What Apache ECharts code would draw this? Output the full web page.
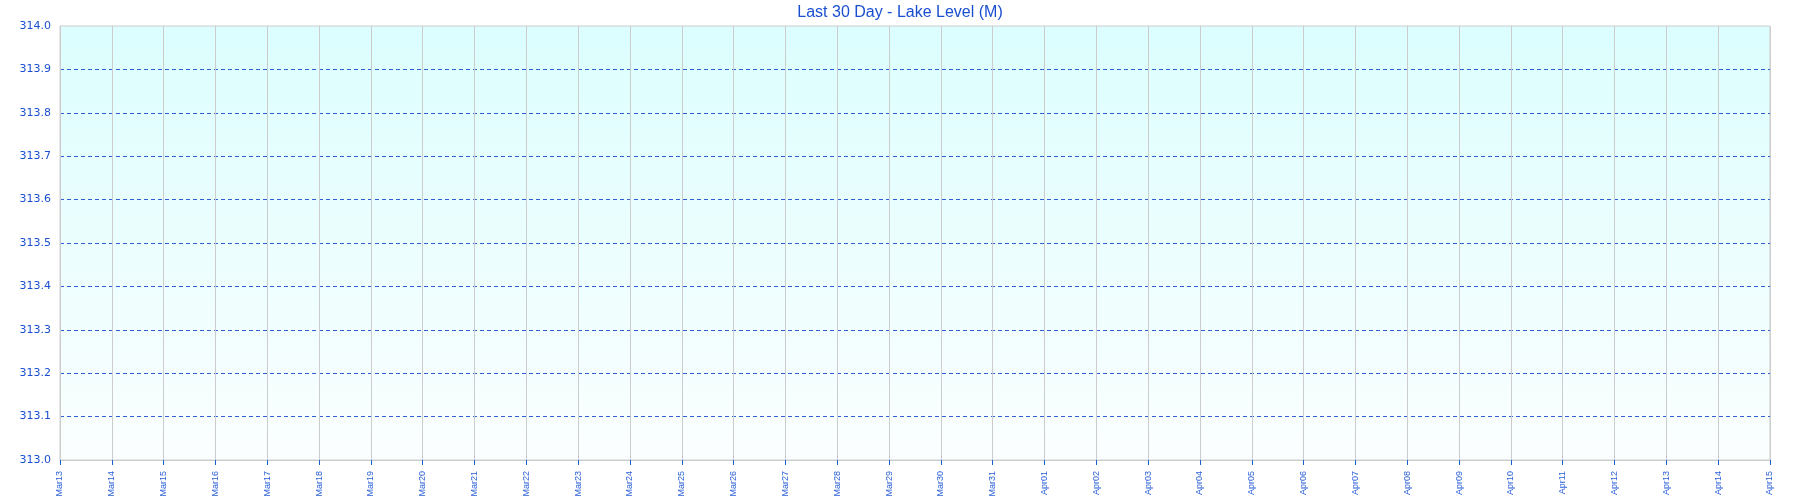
<!DOCTYPE html>
<html><head><meta charset="utf-8">
<script src="https://cdn.jsdelivr.net/npm/echarts@6/dist/echarts.min.js"></script>
<style>html,body{margin:0;padding:0;background:#fff}#c{width:1800px;height:500px}</style>
</head><body><div id="c"></div>
<script>
const title = 'Last 30 Day - Lake Level (M)';
const categories = ['Mar13','Mar14','Mar15','Mar16','Mar17','Mar18','Mar19','Mar20','Mar21','Mar22','Mar23','Mar24','Mar25','Mar26','Mar27','Mar28','Mar29','Mar30','Mar31','Apr01','Apr02','Apr03','Apr04','Apr05','Apr06','Apr07','Apr08','Apr09','Apr10','Apr11','Apr12','Apr13','Apr14','Apr15'];
const levelValues = [];
const yMin = 313.0, yMax = 314.0, yStep = 0.1;

const chart = echarts.init(document.getElementById('c'), null, {renderer: 'canvas'});
chart.setOption({
  animation: false,
  title: {text: title, left: 'center', top: 0,
    textStyle: {fontFamily: 'Liberation Sans', fontSize: 16, fontWeight: 'normal', color: '#1a4fd0'}},
  grid: {left: 60, top: 26, right: 30, bottom: 40, show: true, borderColor: '#cccccc', borderWidth: 1,
    backgroundColor: new echarts.graphic.LinearGradient(0, 0, 0, 1, [
      {offset: 0, color: '#dcfefe'}, {offset: 1, color: '#fbfefe'}])},
  xAxis: {type: 'category', data: categories, boundaryGap: false,
    axisLine: {lineStyle: {color: '#cccccc'}},
    axisTick: {show: true, length: 5, inside: false, alignWithLabel: true, lineStyle: {color: '#1a5fd0'}},
    axisLabel: {rotate: 90, interval: 0, fontSize: 9, fontFamily: 'Liberation Sans', color: '#2a5fd6', margin: 11},
    splitLine: {show: true, lineStyle: {color: '#cccccc', width: 1}}},
  yAxis: {type: 'value', min: yMin, max: yMax, interval: yStep,
    axisLine: {show: false}, axisTick: {show: false},
    axisLabel: {fontSize: 11, fontFamily: 'DejaVu Sans', color: '#1a4fd0', margin: 9, verticalAlign: 'middle',
      formatter: v => v.toFixed(1)},
    splitLine: {show: true, showMinLine: false, showMaxLine: false,
      lineStyle: {color: '#2f5fd0', type: [4, 3], width: 1}}},
  series: [{type: 'line', data: levelValues, showSymbol: false, lineStyle: {color: '#1a4fd0'}}]
});
</script></body></html>
